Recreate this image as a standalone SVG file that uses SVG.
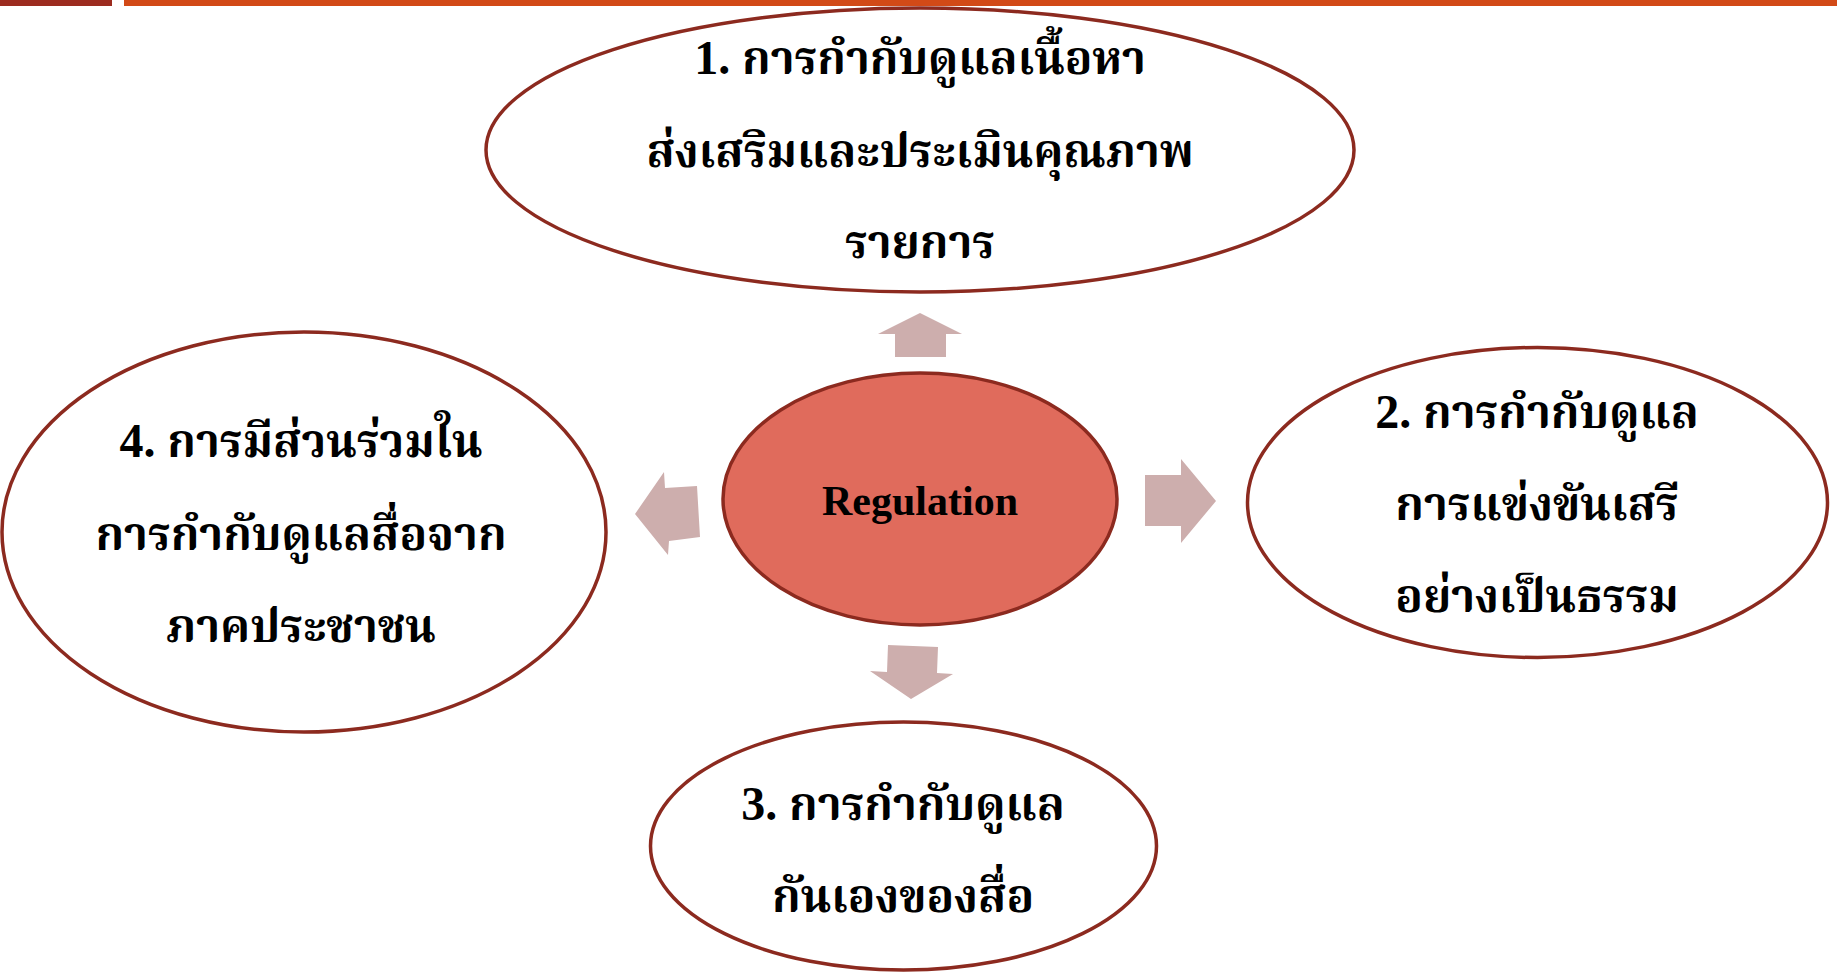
<svg xmlns="http://www.w3.org/2000/svg" width="1837" height="973" viewBox="0 0 1837 973">
<style>
.node{fill:#ffffff;stroke:#8c2a1f;stroke-width:3.5}
.center{fill:#e06b5c;stroke:#8c2a1f;stroke-width:3.5}
.arrow{fill:#cdaead}
.th{font-family:"Angsana New","TH Sarabun New","Noto Serif Thai","Noto Sans Thai","Tlwg Typo","Loma","Liberation Serif",serif;font-weight:bold;font-size:45.5px;fill:#000;text-anchor:middle}
.num{font-family:"Liberation Serif","Times New Roman",serif;font-size:48px}
.en{font-family:"Liberation Serif","Times New Roman",serif;font-weight:bold;font-size:42px;fill:#000;text-anchor:middle}
</style>
<rect x="0" y="0" width="112" height="6" fill="#9c2b1f"/>
<rect x="124" y="0" width="1713" height="6" fill="#d24a17"/>
<g id="connectors">
<polygon class="arrow" points="920,313 962,334 946,334 946,357 895,357 895,334 878,334"/>
<polygon class="arrow" points="1216,501 1181,543 1181,526 1145,526 1145,475 1181,475 1181,459"/>
<polygon class="arrow" points="911,699 870,671 887,672 888,645 938,647 937,673 953,674"/>
<polygon class="arrow" points="635,514 664,472 665,488 697,486 700,537 669,541 668,555"/>
</g>
<g id="center">
<ellipse class="center" cx="920" cy="499" rx="197" ry="126"/>
<text class="en" x="920" y="515">Regulation</text>
</g>
<g id="node1">
<ellipse class="node" cx="920" cy="150" rx="434" ry="142"/>
<text class="th" x="920" y="74"><tspan class="num">1.</tspan> การกำกับดูแลเนื้อหา</text>
<text class="th" x="920" y="167">ส่งเสริมและประเมินคุณภาพ</text>
<text class="th" x="920" y="258">รายการ</text>
</g>
<g id="node2">
<ellipse class="node" cx="1537.5" cy="502.5" rx="290" ry="155"/>
<text class="th" x="1537" y="428"><tspan class="num">2.</tspan> การกำกับดูแล</text>
<text class="th" x="1537" y="520">การแข่งขันเสรี</text>
<text class="th" x="1537" y="612">อย่างเป็นธรรม</text>
</g>
<g id="node3">
<ellipse class="node" cx="903.5" cy="846" rx="253" ry="124"/>
<text class="th" x="903" y="820"><tspan class="num">3.</tspan> การกำกับดูแล</text>
<text class="th" x="903" y="912">กันเองของสื่อ</text>
</g>
<g id="node4">
<ellipse class="node" cx="304" cy="532" rx="302" ry="200"/>
<text class="th" x="301" y="457"><tspan class="num">4.</tspan> การมีส่วนร่วมใน</text>
<text class="th" x="301" y="550">การกำกับดูแลสื่อจาก</text>
<text class="th" x="301" y="642">ภาคประชาชน</text>
</g>
</svg>
